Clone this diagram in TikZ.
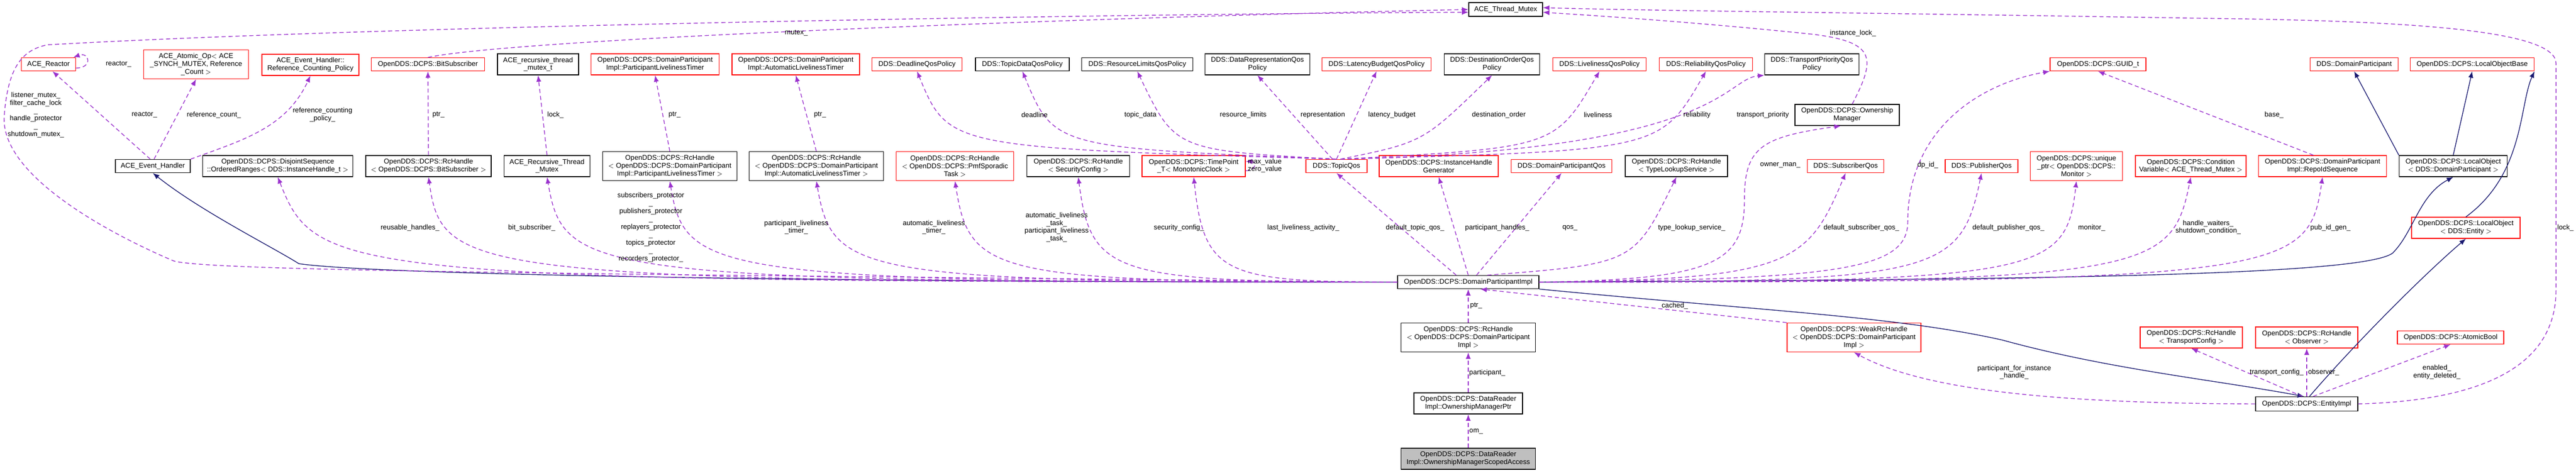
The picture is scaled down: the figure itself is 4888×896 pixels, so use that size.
\documentclass[tikz,border=0pt]{standalone}
\usepackage{fontspec}
\setmainfont{Liberation Sans}
\usetikzlibrary{arrows.meta}

\definecolor{dep}{RGB}{154,50,205}
\definecolor{inh}{RGB}{25,25,112}

\tikzset{
  cls/.style={draw=black, thick, fill=white, align=center, inner sep=1pt,
    font=\fontsize{7.5}{8.5}\selectfont},
  doc/.style={cls, draw=red},
  me/.style={cls, fill=black!25},
  mem/.style={draw=dep, thick, dash pattern=on 4.5pt off 3pt,
    -{Latex[length=7pt,width=5.5pt]}},
  base/.style={draw=inh, thick, -{Latex[length=7pt,width=5.5pt]}},
  lab/.style={align=center, inner sep=0pt, font=\fontsize{7.5}{8.5}\selectfont}
}

\begin{document}
\begin{tikzpicture}[x=0.02cm, y=-0.02cm]

\useasboundingbox (0,0) rectangle (4888,896);

% top row
\node[cls, minimum width=2.8cm, minimum height=0.52cm] (tmx) at (2857,18) {ACE\_Thread\_Mutex};

\node[doc, minimum width=2.06cm, minimum height=0.5cm] (react) at (92,122) {ACE\_Reactor};
\node[doc, minimum width=3.98cm, minimum height=1.1cm] (atom) at (372,122) {ACE\_Atomic\_Op$<$ ACE\\\_SYNCH\_MUTEX, Reference\\\_Count $>$};
\node[doc, minimum width=3.68cm, minimum height=0.8cm] (rcp) at (589,123) {ACE\_Event\_Handler::\\Reference\_Counting\_Policy};
\node[doc, minimum width=4.3cm, minimum height=0.5cm] (bits) at (812,122) {OpenDDS::DCPS::BitSubscriber};
\node[cls, minimum width=3.08cm, minimum height=0.8cm] (rtm) at (1021,122) {ACE\_recursive\_thread\\\_mutex\_t};
\node[doc, minimum width=4.86cm, minimum height=0.8cm] (plt) at (1243,122) {OpenDDS::DCPS::DomainParticipant\\Impl::ParticipantLivelinessTimer};
\node[doc, minimum width=4.84cm, minimum height=0.8cm] (alt) at (1510,122) {OpenDDS::DCPS::DomainParticipant\\Impl::AutomaticLivelinessTimer};
\node[doc, minimum width=3.42cm, minimum height=0.5cm] (dead) at (1740,122) {DDS::DeadlineQosPolicy};
\node[cls, minimum width=3.56cm, minimum height=0.5cm] (tdata) at (1940,122) {DDS::TopicDataQosPolicy};
\node[cls, minimum width=4.22cm, minimum height=0.5cm] (rlim) at (2158,122) {DDS::ResourceLimitsQosPolicy};
\node[cls, minimum width=3.98cm, minimum height=0.8cm] (drep) at (2386,122) {DDS::DataRepresentationQos\\Policy};
\node[doc, minimum width=4.14cm, minimum height=0.5cm] (lat) at (2612,122) {DDS::LatencyBudgetQosPolicy};
\node[cls, minimum width=3.62cm, minimum height=0.8cm] (dord) at (2831,122) {DDS::DestinationOrderQos\\Policy};
\node[doc, minimum width=3.54cm, minimum height=0.5cm] (live) at (3035,122) {DDS::LivelinessQosPolicy};
\node[doc, minimum width=3.54cm, minimum height=0.5cm] (rel) at (3237,122) {DDS::ReliabilityQosPolicy};
\node[cls, minimum width=3.58cm, minimum height=0.8cm] (tprio) at (3438,122) {DDS::TransportPriorityQos\\Policy};
\node[doc, minimum width=3.64cm, minimum height=0.5cm] (guid) at (3981,122) {OpenDDS::DCPS::GUID\_t};
\node[doc, minimum width=3.34cm, minimum height=0.5cm] (dp) at (4467,122) {DDS::DomainParticipant};
\node[doc, minimum width=4.7cm, minimum height=0.5cm] (lob) at (4691,122) {OpenDDS::DCPS::LocalObjectBase};
\node[cls, minimum width=3.96cm, minimum height=0.8cm] (omgr) at (3505,218) {OpenDDS::DCPS::Ownership\\Manager};

% second row
\node[cls, minimum width=2.84cm, minimum height=0.5cm] (evh) at (290,315) {ACE\_Event\_Handler};
\node[cls, minimum width=5.7cm, minimum height=0.8cm] (dsq) at (527,315) {OpenDDS::DCPS::DisjointSequence\\::OrderedRanges$<$ DDS::InstanceHandle\_t $>$};
\node[cls, minimum width=4.76cm, minimum height=0.8cm] (rcbs) at (813,315) {OpenDDS::DCPS::RcHandle\\$<$ OpenDDS::DCPS::BitSubscriber $>$};
\node[cls, minimum width=3.26cm, minimum height=0.8cm] (rrtm) at (1038,315) {ACE\_Recursive\_Thread\\\_Mutex};
\node[cls, minimum width=5.1cm, minimum height=1.1cm] (rcplt) at (1271,315) {OpenDDS::DCPS::RcHandle\\$<$ OpenDDS::DCPS::DomainParticipant\\Impl::ParticipantLivelinessTimer $>$};
\node[cls, minimum width=5.1cm, minimum height=1.1cm] (rcalt) at (1549,315) {OpenDDS::DCPS::RcHandle\\$<$ OpenDDS::DCPS::DomainParticipant\\Impl::AutomaticLivelinessTimer $>$};
\node[doc, minimum width=4.46cm, minimum height=1.1cm] (rcpmf) at (1812,315) {OpenDDS::DCPS::RcHandle\\$<$ OpenDDS::DCPS::PmfSporadic\\Task $>$};
\node[cls, minimum width=3.9cm, minimum height=0.8cm] (rcsec) at (2046,315) {OpenDDS::DCPS::RcHandle\\$<$ SecurityConfig $>$};
\node[doc, minimum width=3.92cm, minimum height=0.8cm] (tpt) at (2265,315) {OpenDDS::DCPS::TimePoint\\\_T$<$ MonotonicClock $>$};
\node[doc, minimum width=2.32cm, minimum height=0.5cm] (tqos) at (2536,315) {DDS::TopicQos};
\node[doc, minimum width=4.52cm, minimum height=0.8cm] (ihg) at (2730,315) {OpenDDS::DCPS::InstanceHandle\\Generator};
\node[doc, minimum width=3.82cm, minimum height=0.5cm] (dpq) at (2963,315) {DDS::DomainParticipantQos};
\node[cls, minimum width=3.88cm, minimum height=0.8cm] (rctl) at (3181,315) {OpenDDS::DCPS::RcHandle\\$<$ TypeLookupService $>$};
\node[doc, minimum width=2.9cm, minimum height=0.5cm] (subq) at (3502,315) {DDS::SubscriberQos};
\node[doc, minimum width=2.76cm, minimum height=0.5cm] (pubq) at (3760,315) {DDS::PublisherQos};
\node[doc, minimum width=3.5cm, minimum height=1.1cm] (mon) at (3940,315) {OpenDDS::DCPS::unique\\\_ptr$<$ OpenDDS::DCPS::\\Monitor $>$};
\node[doc, minimum width=4.2cm, minimum height=0.8cm] (cvar) at (4157,315) {OpenDDS::DCPS::Condition\\Variable$<$ ACE\_Thread\_Mutex $>$};
\node[doc, minimum width=4.86cm, minimum height=0.8cm] (rids) at (4407,315) {OpenDDS::DCPS::DomainParticipant\\Impl::RepoIdSequence};
\node[cls, minimum width=4.1cm, minimum height=0.8cm] (lodp) at (4655,315) {OpenDDS::DCPS::LocalObject\\$<$ DDS::DomainParticipant $>$};
\node[doc, minimum width=4.12cm, minimum height=0.8cm] (loent) at (4679,432) {OpenDDS::DCPS::LocalObject\\$<$ DDS::Entity $>$};

% lower part
\node[cls, minimum width=5.36cm, minimum height=0.5cm] (dpi) at (2786,535) {OpenDDS::DCPS::DomainParticipantImpl};
\node[cls, minimum width=5.1cm, minimum height=1.1cm] (rcdpi) at (2786,640) {OpenDDS::DCPS::RcHandle\\$<$ OpenDDS::DCPS::DomainParticipant\\Impl $>$};
\node[cls, minimum width=4.12cm, minimum height=0.8cm] (omp) at (2786,765) {OpenDDS::DCPS::DataReader\\Impl::OwnershipManagerPtr};
\node[me, minimum width=5.1cm, minimum height=0.8cm] (osa) at (2786,870) {OpenDDS::DCPS::DataReader\\Impl::OwnershipManagerScopedAccess};
\node[doc, minimum width=5.08cm, minimum height=1.1cm] (weak) at (3518,640) {OpenDDS::DCPS::WeakRcHandle\\$<$ OpenDDS::DCPS::DomainParticipant\\Impl $>$};
\node[doc, minimum width=3.88cm, minimum height=0.8cm] (rctc) at (4158,640) {OpenDDS::DCPS::RcHandle\\$<$ TransportConfig $>$};
\node[doc, minimum width=3.88cm, minimum height=0.8cm] (robs) at (4377,640) {OpenDDS::DCPS::RcHandle\\$<$ Observer $>$};
\node[doc, minimum width=4.04cm, minimum height=0.5cm] (abool) at (4650,640) {OpenDDS::DCPS::AtomicBool};
\node[cls, minimum width=3.88cm, minimum height=0.54cm] (ent) at (4377,766) {OpenDDS::DCPS::EntityImpl};

% inheritance
\draw[base] (dpi.west) .. controls (1500,535) and (700,520) .. (567,500)
  .. controls (520,470) and (380,400) .. (evh.south);
\draw[base] (dpi.east) .. controls (3800,530) and (4480,525) .. (4540,480)
  .. controls (4580,440) and (4590,370) .. (lodp.south);
\draw[base] (lodp.north west) -- (dp.south);
\draw[base] (lodp.north) -- (lob.south);
\draw[base] (loent.north) .. controls (4790,330) and (4780,200) .. (lob.south east);
\draw[base] (dpi.south east) .. controls (3350,590) and (3600,600) .. (3800,645)
  .. controls (4000,700) and (4200,720) .. (ent.110);
\draw[base] (ent.70) .. controls (4470,650) and (4600,520) .. (loent.south);

% members, top part
\draw[mem] ([yshift=-4pt]react.east) to[out=0,in=20,looseness=4] ([xshift=-3pt]react.north east);
\draw[mem] (evh.110) -- (react.-60);
\draw[mem] (evh.80) -- (atom.south);
\draw[mem] (evh.north east) to[out=20,in=-115] (rcp.south);
\draw[mem] (rcbs.north) -- (bits.south);
\draw[mem] (rrtm.north) -- (rtm.south);
\draw[mem] (rcplt.north) -- (plt.south);
\draw[mem] (rcalt.north) -- (alt.south);
\draw[mem] (bits.north) .. controls (1000,70) and (2200,30) .. (tmx.west);
\draw[mem] (dpi.west) .. controls (1200,520) and (400,515) .. (330,495)
  .. controls (200,440) and (0,330) .. (8,220)
  .. controls (15,130) and (40,95) .. (90,85)
  .. controls (800,45) and (2300,25) .. ([yshift=-3pt]tmx.west);
\draw[mem] (omgr.65) .. controls (3560,110) and (3560,80) .. (3440,65)
  .. controls (3200,40) and (3000,28) .. ([yshift=-3pt]tmx.east);
\draw[mem] (ent.east) .. controls (4700,760) and (4850,700) .. (4850,550)
  -- (4850,120) .. controls (4850,60) and (4600,40) .. (4200,35)
  .. controls (3600,25) and (3100,20) .. ([yshift=2pt]tmx.east);
\draw[mem] (tqos.north) .. controls (1800,280) .. (dead.south);
\draw[mem] (tqos.north) .. controls (2000,280) .. (tdata.south);
\draw[mem] (tqos.north) .. controls (2230,285) .. (rlim.south);
\draw[mem] (tqos.120) -- (drep.south);
\draw[mem] (tqos.north) -- (lat.south);
\draw[mem] (tqos.60) .. controls (2700,270) .. (dord.south);
\draw[mem] (tqos.60) .. controls (2950,280) .. (live.south);
\draw[mem] (tqos.60) .. controls (3150,285) .. (rel.south);
\draw[mem] (tqos.60) .. controls (3270,285) and (3270,150) .. (tprio.south west);
\draw[mem] ([yshift=-5pt]tpt.east) to[out=0,in=0,looseness=3] ([yshift=5pt]tpt.east);
\draw[mem] (rids.130) -- (guid.south);

% members of the participant
\draw[mem] (dpi.west) .. controls (640,535) and (600,520) .. (dsq.south);
\draw[mem] (dpi.west) .. controls (880,535) and (840,520) .. (rcbs.south);
\draw[mem] (dpi.west) .. controls (1110,535) and (1070,520) .. (rrtm.south);
\draw[mem] (dpi.west) .. controls (1350,535) and (1300,520) .. (rcplt.south);
\draw[mem] (dpi.west) .. controls (1620,535) and (1580,520) .. (rcalt.south);
\draw[mem] (dpi.west) .. controls (1880,535) and (1840,520) .. (rcpmf.south);
\draw[mem] (dpi.west) .. controls (2110,535) and (2070,520) .. (rcsec.south);
\draw[mem] (dpi.west) .. controls (2320,535) and (2285,520) .. (tpt.south);
\draw[mem] (dpi.150) -- (tqos.south);
\draw[mem] (dpi.north) -- (ihg.south);
\draw[mem] (dpi.40) -- (dpq.south);
\draw[mem] (dpi.20) .. controls (3100,500) .. (rctl.south);
\draw[mem] (dpi.east) .. controls (3250,530) and (3310,500) .. (3310,380)
  .. controls (3310,280) and (3340,260) .. (omgr.-120);
\draw[mem] (dpi.east) .. controls (3400,530) and (3430,500) .. (subq.south);
\draw[mem] (dpi.east) .. controls (3500,530) and (3620,510) .. (3620,420)
  .. controls (3620,250) and (3750,160) .. (guid.south west);
\draw[mem] (dpi.east) .. controls (3680,535) and (3720,520) .. (pubq.south);
\draw[mem] (dpi.east) .. controls (3880,535) and (3920,520) .. (mon.south);
\draw[mem] (dpi.east) .. controls (4080,535) and (4120,520) .. (cvar.south);
\draw[mem] (dpi.east) .. controls (4340,535) and (4380,520) .. (rids.south);

% members, lower part
\draw[mem] (rcdpi.north) -- (dpi.south);
\draw[mem] (omp.north) -- (rcdpi.south);
\draw[mem] (osa.north) -- (omp.south);
\draw[mem] (weak.north west) -- (dpi.-30);
\draw[mem] (ent.west) .. controls (3900,765) and (3650,740) .. (weak.south);
\draw[mem] (ent.120) -- (rctc.south);
\draw[mem] (ent.north) -- (robs.south);
\draw[mem] (ent.50) -- (abool.south);

% labels
\node[lab] (l1) at (225,122) {reactor\_};
\node[lab] (l2) at (68,218) {listener\_mutex\_\\filter\_cache\_lock\\\_\\handle\_protector\\\_\\shutdown\_mutex\_};
\node[lab] (l3) at (274,218) {reactor\_};
\node[lab] (l4) at (406,218) {reference\_count\_};
\node[lab] (l5) at (612,218) {reference\_counting\\\_policy\_};
\node[lab] (l6) at (1511,63) {mutex\_};
\node[lab] (l7) at (832,218) {ptr\_};
\node[lab] (l8) at (1054,218) {lock\_};
\node[lab] (l9) at (1280,218) {ptr\_};
\node[lab] (l10) at (1556,218) {ptr\_};
\node[lab] (l11) at (1963,218) {deadline};
\node[lab] (l12) at (2164,218) {topic\_data};
\node[lab] (l13) at (2359,218) {resource\_limits};
\node[lab] (l14) at (2510,218) {representation};
\node[lab] (l15) at (2641,218) {latency\_budget};
\node[lab] (l16) at (2844,218) {destination\_order};
\node[lab] (l17) at (3032,218) {liveliness};
\node[lab] (l18) at (3220,218) {reliability};
\node[lab] (l19) at (3345,218) {transport\_priority};
\node[lab] (l20) at (3516,63) {instance\_lock\_};
\node[lab] (l21) at (4315,218) {base\_};
\node[lab] (l22) at (2400,314) {max\_value\\zero\_value};
\node[lab] (l23) at (3378,313) {owner\_man\_};
\node[lab] (l24) at (3658,313) {dp\_id\_};
\node[lab] (l25) at (778,432) {reusable\_handles\_};
\node[lab] (l26) at (1009,432) {bit\_subscriber\_};
\node[lab] (l27) at (1235,431) {subscribers\_protector\\\_\\publishers\_protector\\\_\\replayers\_protector\\\_\\topics\_protector\\\_\\recorders\_protector\_};
\node[lab] (l28) at (1511,431) {participant\_liveliness\\\_timer\_};
\node[lab] (l29) at (1772,431) {automatic\_liveliness\\\_timer\_};
\node[lab] (l30) at (2005,431) {automatic\_liveliness\\\_task\_\\participant\_liveliness\\\_task\_};
\node[lab] (l31) at (2237,432) {security\_config\_};
\node[lab] (l32) at (2473,432) {last\_liveliness\_activity\_};
\node[lab] (l33) at (2685,432) {default\_topic\_qos\_};
\node[lab] (l34) at (2841,432) {participant\_handles\_};
\node[lab] (l35) at (2979,432) {qos\_};
\node[lab] (l36) at (3210,432) {type\_lookup\_service\_};
\node[lab] (l37) at (3532,432) {default\_subscriber\_qos\_};
\node[lab] (l38) at (3811,432) {default\_publisher\_qos\_};
\node[lab] (l39) at (3969,432) {monitor\_};
\node[lab] (l40) at (4190,431) {handle\_waiters\_\\shutdown\_condition\_};
\node[lab] (l41) at (4422,432) {pub\_id\_gen\_};
\node[lab] (l42) at (4868,432) {lock\_};
\node[lab] (l43) at (2801,580) {ptr\_};
\node[lab] (l44) at (3178,580) {cached\_};
\node[lab] (l45) at (2822,707) {participant\_};
\node[lab] (l46) at (2801,818) {om\_};
\node[lab] (l47) at (3822,706) {participant\_for\_instance\\\_handle\_};
\node[lab] (l48) at (4320,706) {transport\_config\_};
\node[lab] (l49) at (4409,706) {observer\_};
\node[lab] (l50) at (4624,706) {enabled\_\\entity\_deleted\_};

\end{tikzpicture}
\end{document}
